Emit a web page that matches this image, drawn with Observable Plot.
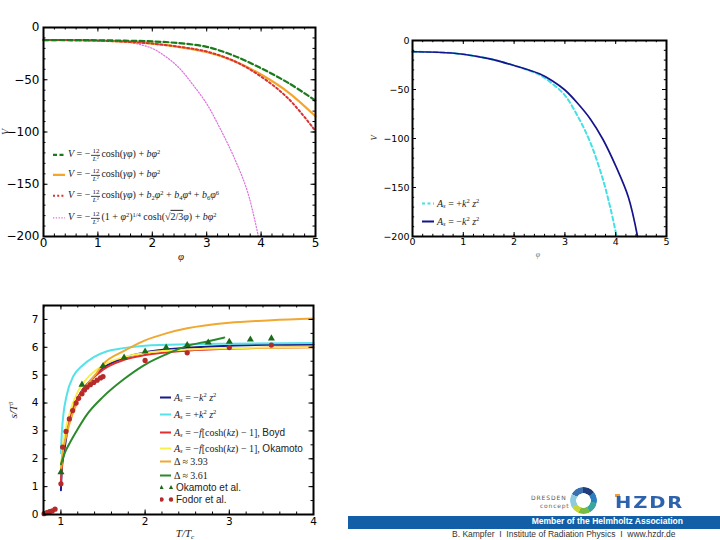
<!DOCTYPE html>
<html><head><meta charset="utf-8">
<script src="https://cdn.jsdelivr.net/npm/d3@7"></script>
<script src="https://cdn.jsdelivr.net/npm/@observablehq/plot@0.6"></script>
<style>
body{margin:0;background:#fff;width:720px;height:540px;overflow:hidden;position:relative;font-family:"DejaVu Sans",sans-serif;}
.abs{position:absolute;}
.lg{position:absolute;white-space:nowrap;display:flex;align-items:center;transform:translateY(-50%);font-family:"Liberation Serif","DejaVu Serif",serif;color:#222;}
.lg svg{margin-right:3px;flex:none}
.lg>span{display:inline-block;white-space:nowrap;line-height:1.1}
.fr{display:inline-flex;flex-direction:column;align-items:center;font-size:0.7em;line-height:0.95;vertical-align:middle;margin:0 1px;}
.fr>span:first-child{border-bottom:0.6px solid #444;padding:0 1px}
sup{font-size:0.65em;vertical-align:0.5em;line-height:0}
sub{font-size:0.65em;vertical-align:-0.3em;line-height:0}
.sans{font-family:"Liberation Sans","DejaVu Sans",sans-serif;font-style:normal}
.ax{position:absolute;font-family:"Liberation Serif","DejaVu Serif",serif;font-style:italic;color:#222;white-space:nowrap;}
</style></head><body>
<div id="p1" class="abs" style="left:0;top:0"></div>
<div id="p2" class="abs" style="left:360px;top:0"></div>
<div id="p3" class="abs" style="left:0;top:290px"></div>
<div id="labels"></div>
<div id="legends"></div>
<div id="footer"></div>
<script>
// ---------- Top-left panel data ----------
const phiTL      = [0, 0.5, 1, 1.5, 2, 2.5, 3, 3.5, 4, 4.5, 5];
const vGreenDash = [-12, -12, -12.2, -12.6, -13.3, -15, -18.5, -27, -39, -53, -70];
const vOrange    = [-12, -12.1, -12.6, -13.6, -15.5, -18.7, -23.5, -32, -45, -62, -85];
const vRedDot    = [-12, -12.1, -12.6, -13.6, -15.4, -18.5, -23, -32, -47, -68, -99];
const phiViolet  = [0, 0.5, 1, 1.5, 1.75, 2, 2.25, 2.5, 2.75, 3, 3.25, 3.5, 3.75, 3.95];
const vViolet    = [-12, -12.1, -12.6, -14, -16, -20, -28, -39, -55, -73, -97, -124, -157, -200];
const tlXTicks = [0, 1, 2, 3, 4, 5];
const tlYTicks = [0, -50, -100, -150, -200];

// ---------- Top-right panel data ----------
const phiBlue = [0, 0.5, 1, 1.5, 2, 2.5, 2.75, 3, 3.25, 3.5, 3.75, 4, 4.25, 4.43];
const vBlue   = [-11.5, -12, -14, -18.5, -25.5, -34, -41, -50.5, -64, -80, -101, -128, -160, -200];
const phiCyan = [0, 0.5, 1, 1.5, 2, 2.5, 2.75, 3, 3.25, 3.5, 3.75, 3.9, 4.02];
const vCyan   = [-11.5, -12, -14, -18.5, -25.5, -35, -44, -56, -77, -104, -142, -172, -200];
const trXTicks = [0, 1, 2, 3, 4, 5];
const trYTicks = [0, -50, -100, -150, -200];

// ---------- Bottom-left panel data ----------
const tNavy = [1, 1.01, 1.03, 1.05, 1.1, 1.17, 1.25, 1.35, 1.5, 1.75, 2, 2.5, 3, 3.5, 4];
const sNavy = [0.87, 1.6, 2.1, 2.5, 3.43, 4.0, 4.44, 4.8, 5.25, 5.62, 5.82, 5.98, 6.06, 6.09, 6.1];
const tCyan = [1, 1.005, 1.01, 1.03, 1.07, 1.15, 1.25, 1.39, 1.54, 1.74, 2, 2.5, 3, 4];
const sCyan = [2.2, 2.6, 2.9, 3.6, 4.3, 4.98, 5.33, 5.65, 5.85, 5.97, 6.06, 6.11, 6.13, 6.15];
const tRed  = [1, 1.02, 1.05, 1.1, 1.17, 1.25, 1.35, 1.5, 1.75, 2, 2.5, 3, 4];
const sRed  = [1.2, 2.1, 2.7, 3.5, 4.0, 4.45, 4.8, 5.2, 5.55, 5.72, 5.88, 5.95, 6.0];
const tYellow = [1, 1.02, 1.05, 1.1, 1.2, 1.3, 1.5, 1.75, 2, 2.5, 3, 4];
const sYellow = [1.58, 2.4, 2.95, 3.6, 4.4, 4.85, 5.35, 5.65, 5.8, 5.92, 5.97, 6.0];
const tOrange = [1, 1.02, 1.05, 1.1, 1.2, 1.3, 1.4, 1.5, 1.75, 2, 2.25, 2.5, 3, 3.5, 4];
const sOrange = [1.6, 2.2, 2.65, 3.25, 4.08, 4.62, 4.98, 5.39, 5.87, 6.25, 6.5, 6.68, 6.88, 6.97, 7.03];
const tGreen = [1, 1.05, 1.1, 1.2, 1.3, 1.5, 1.75, 2, 2.25, 2.5, 2.75, 2.94];
const sGreen = [1.8, 2.24, 2.54, 3.07, 3.55, 4.22, 4.86, 5.38, 5.75, 6.05, 6.22, 6.35];
const tOkamoto = [1, 1.25, 1.5, 1.75, 2, 2.25, 2.5, 2.75, 3, 3.25, 3.5];
const sOkamoto = [1.52, 4.66, 5.33, 5.63, 5.85, 5.99, 6.08, 6.17, 6.2, 6.28, 6.32];
const tFodor = [0.80, 0.834, 0.865, 0.897, 0.93, 1.0, 1.02, 1.06, 1.1, 1.14, 1.18, 1.21, 1.25, 1.28, 1.31, 1.35, 1.39, 1.43, 1.47, 1.5, 2.0, 2.5, 3.0, 3.5];
const sFodor = [0.03, 0.07, 0.1, 0.13, 0.19, 1.1, 2.42, 2.98, 3.43, 3.73, 4.0, 4.17, 4.33, 4.47, 4.57, 4.66, 4.74, 4.82, 4.9, 4.95, 5.53, 5.8, 5.99, 6.08];
const blXTicks = [1, 2, 3, 4];
const blYTicks = [0, 1, 2, 3, 4, 5, 6, 7];

const zip = (xs, ys) => xs.map((x, i) => ({x, y: ys[i]}));

function frameTicks(iw, ih, xMaj, xMin, yMaj, yMin, L = 4.5, l = 2.5) {
  const m = [];
  for (const [arr, len] of [[xMaj, L], [xMin, l]]) {
    m.push(Plot.tickX(arr, {x: d => d, insetTop: ih - len, stroke: "#000", strokeWidth: 1}));
    m.push(Plot.tickX(arr, {x: d => d, insetBottom: ih - len, stroke: "#000", strokeWidth: 1}));
  }
  for (const [arr, len] of [[yMaj, L], [yMin, l]]) {
    m.push(Plot.tickY(arr, {y: d => d, insetRight: iw - len, stroke: "#000", strokeWidth: 1}));
    m.push(Plot.tickY(arr, {y: d => d, insetLeft: iw - len, stroke: "#000", strokeWidth: 1}));
  }
  return m;
}

// ---------- Panel 1 ----------
{
  const W = 330, H = 270, mL = 43, mR = 15, mT = 27, mB = 34;
  const p = Plot.plot({
    width: W, height: H, marginLeft: mL, marginRight: mR, marginTop: mT, marginBottom: mB,
    x: {domain: [0, 5], label: null}, y: {domain: [-200, 0], label: null},
    style: {fontSize: "12px", fontFamily: "DejaVu Sans, sans-serif", color: "#000", background: "transparent", overflow: "visible"},
    marks: [
      Plot.line(zip(phiViolet, vViolet), {x: "x", y: "y", stroke: "#e070e0", strokeWidth: 1.2, strokeDasharray: "1.3,1.7", curve: "catmull-rom", clip: true}),
      Plot.line(zip(phiTL, vOrange), {x: "x", y: "y", stroke: "#f4a62a", strokeWidth: 2.2, curve: "catmull-rom"}),
      Plot.line(zip(phiTL, vRedDot), {x: "x", y: "y", stroke: "#d83232", strokeWidth: 2, strokeDasharray: "2,2.5", curve: "catmull-rom"}),
      Plot.line(zip(phiTL, vGreenDash), {x: "x", y: "y", stroke: "#1b7a1b", strokeWidth: 2.2, strokeDasharray: "5,3", curve: "catmull-rom"}),
      ...frameTicks(W - mL - mR, H - mT - mB, tlXTicks, d3.range(0, 5.001, 0.2), tlYTicks, d3.range(-200, 0.1, 10)),
      Plot.frame({stroke: "#000", strokeWidth: 2}),
      Plot.axisX(tlXTicks, {tickSize: 0, tickPadding: 2, label: null}),
      Plot.axisY(tlYTicks, {tickSize: 0, tickPadding: 4, label: null})
    ]
  });
  document.getElementById("p1").append(p);
}

// ---------- Panel 2 ----------
{
  const W = 320, H = 270, mL = 52, mR = 14, mT = 40, mB = 34;
  const p = Plot.plot({
    width: W, height: H, marginLeft: mL, marginRight: mR, marginTop: mT, marginBottom: mB,
    x: {domain: [0, 5], label: null}, y: {domain: [-200, 0], label: null},
    style: {fontSize: "9.5px", fontFamily: "DejaVu Sans, sans-serif", color: "#000", background: "transparent", overflow: "visible"},
    marks: [
      Plot.line(zip(phiCyan, vCyan), {x: "x", y: "y", stroke: "#45e0e6", strokeWidth: 2, strokeDasharray: "4,3", curve: "catmull-rom"}),
      Plot.line(zip(phiBlue, vBlue), {x: "x", y: "y", stroke: "#14148c", strokeWidth: 1.7, curve: "catmull-rom"}),
      ...frameTicks(W - mL - mR, H - mT - mB, trXTicks, d3.range(0, 5.001, 0.2), trYTicks, d3.range(-200, 0.1, 10), 4, 2.2),
      Plot.frame({stroke: "#000", strokeWidth: 2}),
      Plot.axisX(trXTicks, {tickSize: 0, tickPadding: 2, label: null}),
      Plot.axisY(trYTicks, {tickSize: 0, tickPadding: 3, label: null})
    ]
  });
  document.getElementById("p2").append(p);
}

// ---------- Panel 3 ----------
{
  const W = 330, H = 250, mL = 43, mR = 17, mT = 15, mB = 26;
  const lines = [
    [tNavy, sNavy, "#1a1a8c"],
    [tCyan, sCyan, "#55e2e8"],
    [tRed, sRed, "#e03030"],
    [tYellow, sYellow, "#f8ef4a"],
    [tOrange, sOrange, "#f0a830"],
    [tGreen, sGreen, "#2b8a2b"]
  ];
  const p = Plot.plot({
    width: W, height: H, marginLeft: mL, marginRight: mR, marginTop: mT, marginBottom: mB,
    x: {domain: [0.793, 4], label: null}, y: {domain: [0, 7.5], label: null},
    style: {fontSize: "10.5px", fontFamily: "DejaVu Sans, sans-serif", color: "#000", background: "transparent", overflow: "visible"},
    marks: [
      ...lines.map(([t, s, c]) => Plot.line(zip(t, s), {x: "x", y: "y", stroke: c, strokeWidth: 2, curve: "monotone-x"})),
      Plot.dot(zip(tOkamoto, sOkamoto), {x: "x", y: "y", symbol: "triangle", r: 2.6, fill: "#1a6b1a", stroke: "none"}),
      Plot.dot(zip(tFodor, sFodor), {x: "x", y: "y", r: 2.6, fill: "#b52a2a", stroke: "none"}),
      ...frameTicks(W - mL - mR, H - mT - mB, blXTicks, d3.range(0.8, 4.001, 0.2), blYTicks, d3.range(0, 7.51, 0.5), 4.5, 2.5),
      Plot.frame({stroke: "#000", strokeWidth: 2}),
      Plot.axisX(blXTicks, {tickSize: 0, tickPadding: 3, label: null}),
      Plot.axisY(blYTicks, {tickSize: 0, tickPadding: 5, label: null})
    ]
  });
  document.getElementById("p3").append(p);
}

// ---------- Axis labels ----------
const axisLabels = [
  {x: 5, y: 132, text: "V", size: 10, rot: true},
  {x: 181, y: 256, text: "φ", size: 11},
  {x: 374, y: 138, text: "V", size: 8.5, rot: true},
  {x: 538, y: 254, text: "φ", size: 8, color: "#777"},
  {x: 13, y: 410, text: "s/T<sup>3</sup>", size: 11, rot: true},
  {x: 185, y: 533, text: "T/T<sub>c</sub>", size: 11}
];
document.getElementById("labels").innerHTML = axisLabels.map(a =>
  `<div class="ax" style="left:${a.x}px;top:${a.y}px;font-size:${a.size}px;color:${a.color || "#222"};transform:translate(-50%,-50%)${a.rot ? " rotate(-90deg)" : ""}">${a.text}</div>`
).join("");

// ---------- Legends ----------
function sw(c, w, dash, len = 12) {
  return `<svg width="${len}" height="6"><line x1="0" y1="3" x2="${len}" y2="3" stroke="${c}" stroke-width="${w}" ${dash ? `stroke-dasharray="${dash}"` : ""}/></svg>`;
}
const fr = `<span class="fr"><span>12</span><span><i>L</i><sup>2</sup></span></span>`;
const tlLegend = [
  {y: 155, s: sw("#1b7a1b", 2.2, "4,2.5"), t: `<i>V</i> = −${fr}cosh(<i>γφ</i>) + <i>bφ</i><sup>2</sup>`},
  {y: 175, s: sw("#f4a62a", 2.4), t: `<i>V</i> = −${fr}cosh(<i>γφ</i>) + <i>bφ</i><sup>2</sup>`},
  {y: 196, s: sw("#d83232", 2, "2,2.2"), t: `<i>V</i> = −${fr}cosh(<i>γφ</i>) + <i>b</i><sub>2</sub><i>φ</i><sup>2</sup> + <i>b</i><sub>4</sub><i>φ</i><sup>4</sup> + <i>b</i><sub>6</sub><i>φ</i><sup>6</sup>`},
  {y: 218, s: sw("#e070e0", 1.2, "1.3,1.5"), t: `<i>V</i> = −${fr}(1 + <i>φ</i><sup>2</sup>)<sup>1/4</sup> cosh(√<span style="text-decoration:overline">2/3</span><i>φ</i>) + <i>bφ</i><sup>2</sup>`}
];
const trLegend = [
  {y: 203, s: sw("#45e0e6", 2, "3,2.5"), t: `<i>A<sub>s</sub></i> = +<i>k</i><sup>2</sup> <i>z</i><sup>2</sup>`},
  {y: 221, s: sw("#14148c", 2), t: `<i>A<sub>s</sub></i> = −<i>k</i><sup>2</sup> <i>z</i><sup>2</sup>`}
];
const triSvg = `<svg width="13" height="6"><polygon points="1.5,0.5 3.6,4.5 -0.6,4.5" fill="#1a6b1a"/><polygon points="11,0.5 13.1,4.5 8.9,4.5" fill="#1a6b1a"/></svg>`;
const dotSvg = `<svg width="13" height="6"><circle cx="1.5" cy="3" r="2.2" fill="#b52a2a"/><circle cx="11" cy="3" r="2.2" fill="#b52a2a"/></svg>`;
const blLegend = [
  {y: 397, s: sw("#1a1a8c", 2, null, 11), t: `<i>A<sub>s</sub></i> = −<i>k</i><sup>2</sup> <i>z</i><sup>2</sup>`},
  {y: 414, s: sw("#55e2e8", 2, null, 11), t: `<i>A<sub>s</sub></i> = +<i>k</i><sup>2</sup> <i>z</i><sup>2</sup>`},
  {y: 432, s: sw("#e03030", 2, null, 11), t: `<i>A<sub>s</sub></i> = −<i>f</i>[cosh(<i>kz</i>) − 1], <span class="sans">Boyd</span>`},
  {y: 448, s: sw("#f8ef4a", 2, null, 11), t: `<i>A<sub>s</sub></i> = −<i>f</i>[cosh(<i>kz</i>) − 1], <span class="sans">Okamoto</span>`},
  {y: 461, s: sw("#f0a830", 2, null, 11), t: `Δ ≈ 3.93`},
  {y: 475, s: sw("#2b8a2b", 2, null, 11), t: `Δ ≈ 3.61`},
  {y: 487, s: triSvg, t: `<span class="sans">Okamoto et al.</span>`},
  {y: 499, s: dotSvg, t: `<span class="sans">Fodor et al.</span>`}
];
let lgHtml = "";
for (const e of tlLegend) lgHtml += `<div class="lg" style="left:53px;top:${e.y}px;font-size:10px">${e.s}<span>${e.t}</span></div>`;
for (const e of trLegend) lgHtml += `<div class="lg" style="left:422px;top:${e.y}px;font-size:10px">${e.s}<span>${e.t}</span></div>`;
for (const e of blLegend) lgHtml += `<div class="lg" style="left:160px;top:${e.y}px;font-size:10px">${e.s}<span>${e.t}</span></div>`;
document.getElementById("legends").innerHTML = lgHtml;

// ---------- Footer ----------
document.getElementById("footer").innerHTML = `
<div class="abs" style="left:531px;top:494px;font:6px 'DejaVu Sans',sans-serif;letter-spacing:0.9px;color:#555">DRESDEN</div>
<div class="abs" style="left:540px;top:502px;font:6px 'DejaVu Sans',sans-serif;letter-spacing:0.8px;color:#666">concept</div>
<div class="abs" style="left:570px;top:487px;width:27px;height:27px;border-radius:50%;
 background:conic-gradient(#1f3e7a 0deg 50deg,#2b7fc0 50deg 100deg,#3aa6a0 100deg 150deg,#78bb45 150deg 200deg,#c8d63a 200deg 240deg,#8fcbe0 240deg 300deg,#3a6fb0 300deg 360deg);
 -webkit-mask:radial-gradient(circle,transparent 7px,#000 7.6px);mask:radial-gradient(circle,transparent 7px,#000 7.6px)"></div>
<div class="abs" style="left:615px;top:494px;width:5px;height:3px;background:#f0a030"></div>
<div class="abs" style="left:615px;top:495px;font:bold 16px 'DejaVu Sans',sans-serif;letter-spacing:1.5px;color:#2d62ad;transform-origin:0 0;transform:scaleX(1.22);line-height:16px">HZDR</div>
<div class="abs" style="left:348px;top:516px;width:372px;height:13px;background:#125fa8"></div>
<div class="abs" style="right:37px;top:516px;height:13px;line-height:13px;font:bold 8.5px 'Liberation Sans',sans-serif;color:#fff">Member of the Helmholtz Association</div>
<div class="abs" style="left:452px;top:529px;line-height:11px;font:8.5px 'Liberation Sans',sans-serif;color:#333;white-space:pre">B. Kampfer  I  Institute of Radiation Physics  I  www.hzdr.de</div>`;
</script>
</body></html>
